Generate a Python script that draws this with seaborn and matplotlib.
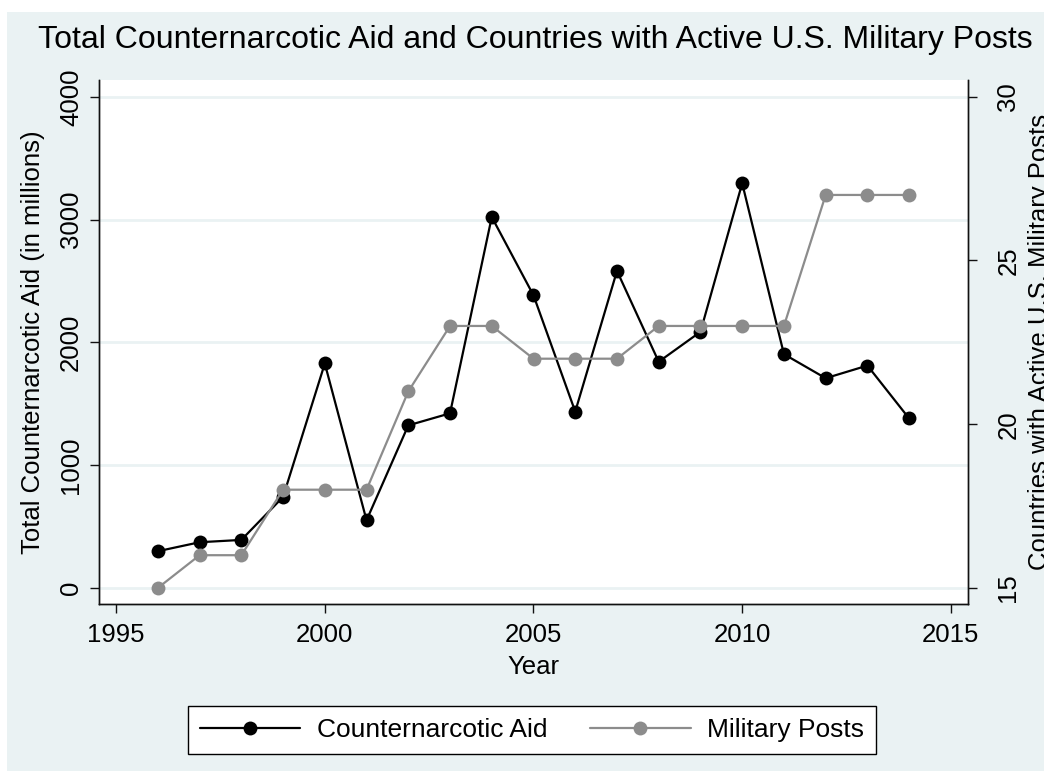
import matplotlib
matplotlib.use("Agg")
import matplotlib.pyplot as plt
import matplotlib.patches as mpatches
import seaborn as sns
import pandas as pd

years = [1996, 1997, 1998, 1999, 2000, 2001, 2002, 2003, 2004, 2005,
         2006, 2007, 2008, 2009, 2010, 2011, 2012, 2013, 2014]
aid_millions = [300, 373, 392, 742, 1829, 552, 1325, 1423, 3022, 2384,
                1437, 2583, 1843, 2087, 3297, 1905, 1709, 1812, 1381]
military_posts = [15, 16, 16, 18, 18, 18, 21, 23, 23, 22,
                  22, 22, 23, 23, 23, 23, 27, 27, 27]

x_ticks = [1995, 2000, 2005, 2010, 2015]
aid_ticks = [0, 1000, 2000, 3000, 4000]
post_ticks = [15, 20, 25, 30]

df = pd.DataFrame({"Year": years, "Aid": aid_millions, "Posts": military_posts})

BG = "#EAF2F3"
GRAY = "#8C8C8C"
FONT = ["Liberation Sans", "DejaVu Sans"]

sns.set_theme(style="white")
plt.rcParams["font.family"] = FONT
plt.rcParams.update({"text.color": "black", "axes.labelcolor": "black",
                     "xtick.color": "black", "ytick.color": "black"})

fig = plt.figure(figsize=(10.44, 7.71), dpi=100, facecolor="white")
fig.patches.append(mpatches.Rectangle((7 / 1044, 0), 1, 1 - 12 / 771,
                                      transform=fig.transFigure,
                                      facecolor=BG, edgecolor="none", zorder=-10))

ax = fig.add_axes([99 / 1044, 1 - 604 / 771, (968 - 99) / 1044, (604 - 80) / 771])
ax.set_facecolor("white")

sns.lineplot(data=df, x="Year", y="Aid", ax=ax, color="black", lw=1.6,
             marker="o", markersize=10, markeredgewidth=0, legend=False)

ax2 = ax.twinx()
sns.lineplot(data=df, x="Year", y="Posts", ax=ax2, color=GRAY, lw=1.6,
             marker="o", markersize=10, markeredgewidth=0, legend=False)

ax.set_xlim(1994.59, 2015.41)
ax.set_ylim(-130, 4138)
ax2.set_ylim(14.51, 30.51)

ax.set_xticks(x_ticks)
ax.set_yticks(aid_ticks)
ax2.set_yticks(post_ticks)

ax.yaxis.grid(True, color=BG, lw=2)
ax.xaxis.grid(False)
ax.set_axisbelow(True)

for a in (ax, ax2):
    a.spines["top"].set_visible(False)
    for side in ("left", "right", "bottom"):
        a.spines[side].set_color("#111111")
        a.spines[side].set_linewidth(1.0)

ax.tick_params(axis="x", direction="out", length=6.5, width=1, color="#111111",
               labelsize=18.5, pad=7, bottom=True)
ax.tick_params(axis="y", direction="out", length=6.5, width=1, color="#111111",
               labelsize=18.5, pad=5, left=True, labelrotation=90)
ax2.tick_params(axis="y", direction="out", length=6.5, width=1, color="#111111",
                labelsize=18.5, pad=14, right=True, labelrotation=90)
for lbl in ax.get_yticklabels():
    lbl.set_va("center")
for lbl in ax2.get_yticklabels():
    lbl.set_va("center")

ax.set_xlabel("Year", fontsize=18.5, labelpad=6)
ax.set_ylabel("Total Counternarcotic Aid (in millions)", fontsize=18.5, labelpad=10)
ax2.set_ylabel("Countries with Active U.S. Military Posts", fontsize=18.5, rotation=90)
ax2.yaxis.set_label_coords(1.069, 0.5)

fig.text(535 / 1044, 1 - 48 / 771,
         "Total Counternarcotic Aid and Countries with Active U.S. Military Posts",
         ha="center", va="baseline", fontsize=23)

handles = [
    plt.Line2D([], [], color="black", lw=1.6, marker="o", markersize=10, markeredgewidth=0),
    plt.Line2D([], [], color=GRAY, lw=1.6, marker="o", markersize=10, markeredgewidth=0),
]
leg = fig.legend(handles, ["Counternarcotic Aid", "Military Posts"],
                 loc="center", bbox_to_anchor=(532 / 1044, 1 - 730 / 771),
                 ncol=2, fontsize=19, frameon=True, fancybox=False,
                 handlelength=3.8, handletextpad=0.64, columnspacing=1.63,
                 borderpad=0.45, edgecolor="black", facecolor="white", framealpha=1)
leg.get_frame().set_linewidth(1.0)

fig.savefig("out.png", dpi=100, facecolor="white")
